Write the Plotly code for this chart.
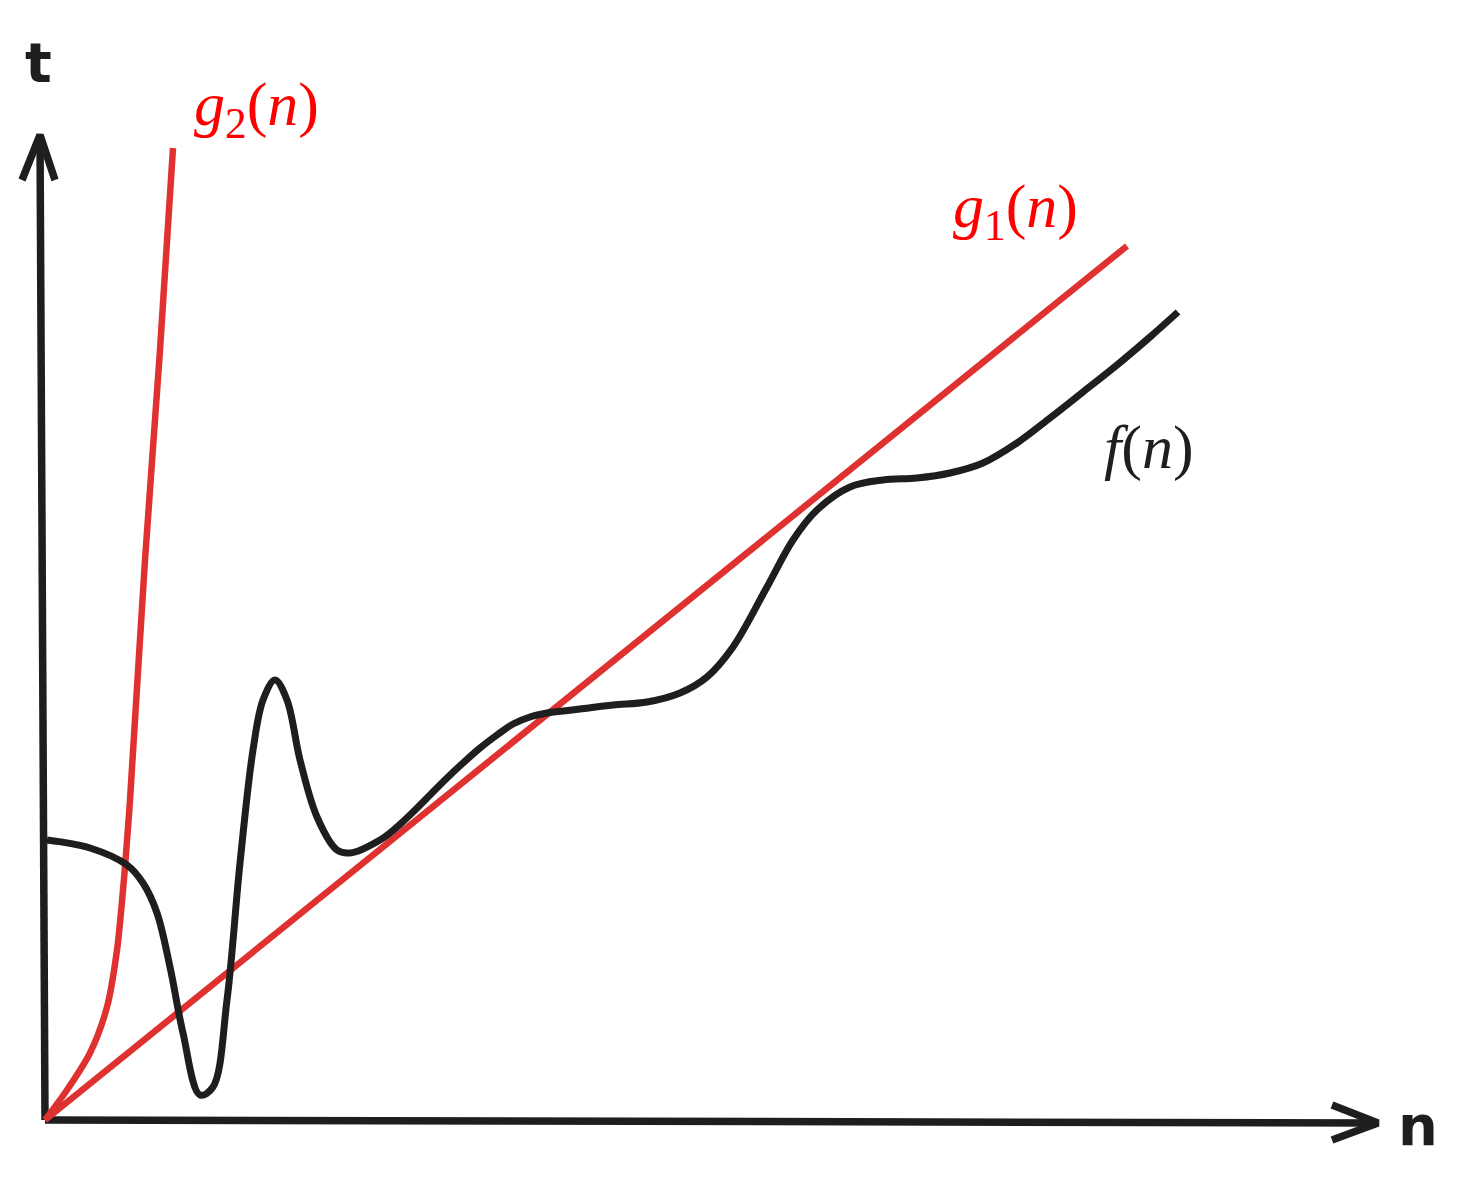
import plotly.graph_objects as go

# curve samples (n, t), origin at the axes corner
f_n = [2, 45, 82, 98, 112, 125, 138, 155, 168, 182, 195, 208, 218, 230, 242, 255,
       272, 292, 305, 335, 352, 368, 385, 402, 418, 435, 452, 468, 485, 502, 518,
       535, 568, 602, 635, 662, 688, 722, 748, 772, 805, 838, 872, 905, 938, 972,
       1005, 1038, 1072, 1105, 1133]
f_t = [280, 272, 255, 237, 207, 153, 87, 25, 33, 120, 257, 370, 420, 440, 420, 360,
       303, 270, 267, 280, 293, 308, 325, 342, 357, 372, 385, 396, 403, 407, 409,
       411, 415, 418, 427, 443, 473, 533, 580, 610, 633, 640, 642, 647, 657, 677,
       702, 728, 755, 783, 808]

g1_n = [0, 1082]
g1_t = [0, 874]

g2_n = [0, 22, 45, 62, 72, 80, 85, 100, 115, 128]
g2_t = [0, 30, 67, 113, 170, 253, 320, 560, 770, 972]

# hand-drawn axes (shaft + arrow arms)
y_axis_n = [0, -5, None, -23, -5, 10]
y_axis_t = [0, 985, None, 940, 985, 940]
x_axis_n = [0, 1333, None, 1287, 1333, 1287]
x_axis_t = [0, -3, None, 15, -3, -20]

BLACK = "#1e1e1e"
RED = "#e03131"

fig = go.Figure()
fig.add_trace(go.Scatter(x=x_axis_n, y=x_axis_t, mode="lines",
                         line=dict(color=BLACK, width=7.5), hoverinfo="skip"))
fig.add_trace(go.Scatter(x=y_axis_n, y=y_axis_t, mode="lines",
                         line=dict(color=BLACK, width=7.5), hoverinfo="skip"))
fig.add_trace(go.Scatter(x=g2_n, y=g2_t, mode="lines", name="g2",
                         line=dict(color=RED, width=6.5, shape="spline", smoothing=0.8)))
fig.add_trace(go.Scatter(x=g1_n, y=g1_t, mode="lines", name="g1",
                         line=dict(color=RED, width=6.5)))
fig.add_trace(go.Scatter(x=f_n, y=f_t, mode="lines", name="f",
                         line=dict(color=BLACK, width=7, shape="spline", smoothing=1.0)))

serif = dict(family="Liberation Serif, DejaVu Serif, serif", size=62)
hand = dict(family="DejaVu Sans, sans-serif", size=56, color=BLACK, weight="bold")
labels = [
    (-7, 1058, "t", hand),
    (1373, -5, "n", hand),
    (211, 1012, "<i>g</i><sub>2</sub>(<i>n</i>)", dict(serif, color="#ff0000")),
    (970, 910, "<i>g</i><sub>1</sub>(<i>n</i>)", dict(serif, color="#ff0000")),
    (1104, 673, "<i>f</i>(<i>n</i>)", dict(serif, color=BLACK)),
]
for x, y, txt, font in labels:
    fig.add_annotation(x=x, y=y, text=txt, showarrow=False, font=font,
                       xanchor="center", yanchor="middle")

# page body has an 8px margin, so the ranges are shifted to keep the origin in place
fig.update_layout(
    width=1441,
    height=1167,
    margin=dict(l=0, r=0, t=0, b=0),
    showlegend=False,
    paper_bgcolor="white",
    plot_bgcolor="white",
    xaxis=dict(range=[-37, 1404], visible=False),
    yaxis=dict(range=[-55, 1112], visible=False),
)
fig.write_html("out.html")
